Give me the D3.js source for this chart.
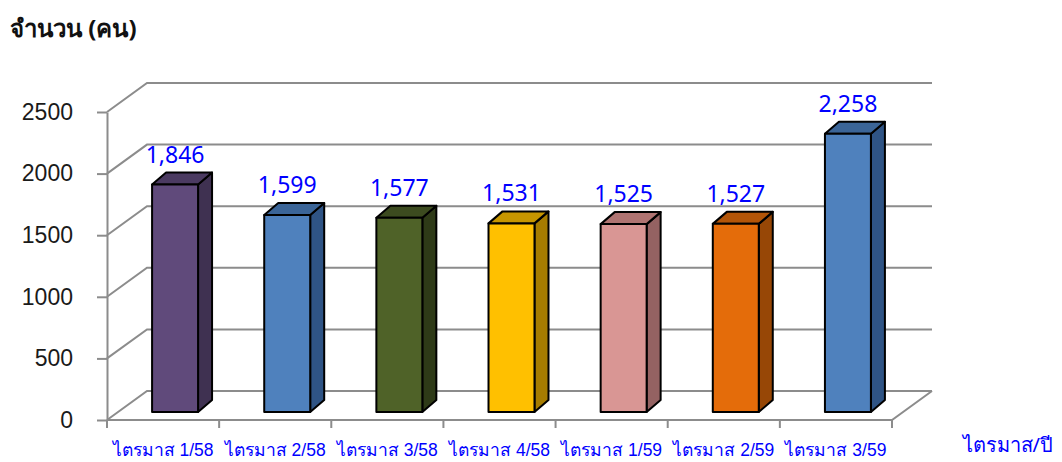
<!DOCTYPE html>
<html>
<head>
<meta charset="utf-8">
<script src="https://cdn.jsdelivr.net/npm/d3@7"></script>
<style>
  html, body { margin: 0; padding: 0; background: #fff; }
  svg { display: block; font-family: Tahoma, "Noto Sans", "DejaVu Sans", sans-serif; }
</style>
</head>
<body>
<svg id="mount" width="1062" height="462"></svg>
<script>
var categories = ["ไตรมาส 1/58", "ไตรมาส 2/58", "ไตรมาส 3/58", "ไตรมาส 4/58", "ไตรมาส 1/59", "ไตรมาส 2/59", "ไตรมาส 3/59"];
var values = [1846, 1599, 1577, 1531, 1525, 1527, 2258];
var yTicks = [0, 500, 1000, 1500, 2000, 2500];
var frontColors = ["#604A7B", "#4F81BD", "#4F6228", "#FFC000", "#D99694", "#E46C0A", "#4F81BD"];
var sideColors = ["#3F3151", "#2F5485", "#2E3A17", "#A67C00", "#946262", "#974706", "#2F5485"];
var topColors = ["#4B3A61", "#3B6598", "#3C4B1F", "#C79600", "#B07472", "#B35508", "#3B6598"];

var gridColor = "#8c8c8c";
var labelBlue = "#0000FF";

// wall depth (side wall offset)
var wallDx = 40, wallDy = -29;
// bar depth
var barDx = 14, barDy = -12;
// bar front face offset inside the floor
var barOffX = 12, barOffY = -8;

var svg = d3.select("#mount");

var x = d3.scaleBand()
  .domain(categories)
  .range([107, 892])
  .padding(0);

var y = d3.scaleLinear()
  .domain([0, 2500])
  .range([420, 112]);

var x0 = x.range()[0], x1 = x.range()[1];

// gridlines: side wall diagonals + back wall horizontals
var grid = svg.append("g")
  .attr("fill", "none")
  .attr("stroke", gridColor)
  .attr("stroke-width", 2);

yTicks.forEach(function(t) {
  grid.append("path")
    .attr("d", "M" + x0 + "," + y(t) + "L" + (x0 + wallDx) + "," + (y(t) + wallDy) +
      "L" + (x1 + wallDx) + "," + (y(t) + wallDy));
});

// floor front + right edge
grid.append("path")
  .attr("d", "M" + x0 + "," + y(0) + "L" + x1 + "," + y(0) +
    "L" + (x1 + wallDx) + "," + (y(0) + wallDy));

// left axis
var yAxis = svg.append("g")
  .attr("transform", "translate(" + x0 + ",0)")
  .call(d3.axisLeft(y).tickValues(yTicks).tickFormat(d3.format("d"))
    .tickSize(10).tickSizeOuter(0).tickPadding(24));
yAxis.select(".domain").attr("stroke", gridColor).attr("stroke-width", 2);
yAxis.selectAll(".tick line").attr("stroke", gridColor).attr("stroke-width", 2);
yAxis.selectAll(".tick text")
  .attr("fill", "#1a1a1a")
  .style("font-size", "23px");

// bottom axis labels
var xAxis = svg.append("g")
  .attr("transform", "translate(0," + y(0) + ")")
  .call(d3.axisBottom(x).tickSize(0).tickPadding(24));
xAxis.select(".domain").remove();
xAxis.selectAll(".tick text")
  .attr("fill", labelBlue)
  .style("font-size", "17.5px");

// boundary ticks on x axis
var boundaries = categories.map(function(c) { return x(c); }).concat([x1]);
svg.append("g")
  .selectAll("line")
  .data(boundaries)
  .join("line")
  .attr("x1", function(d) { return d; })
  .attr("x2", function(d) { return d; })
  .attr("y1", y(0))
  .attr("y2", y(0) + 8)
  .attr("stroke", gridColor)
  .attr("stroke-width", 2);

// bars
var barW = x.bandwidth() * 0.41;
var bars = svg.append("g")
  .attr("stroke", "#000")
  .attr("stroke-width", 2)
  .attr("stroke-linejoin", "round");

categories.forEach(function(c, i) {
  var cx = x(c) + x.bandwidth() / 2 + barOffX;
  var left = cx - barW / 2, right = cx + barW / 2;
  var bottom = y(0) + barOffY, top = y(values[i]) + barOffY;
  var g = bars.append("g");
  // side face
  g.append("path")
    .attr("fill", sideColors[i])
    .attr("d", "M" + right + "," + bottom + "L" + (right + barDx) + "," + (bottom + barDy) +
      "L" + (right + barDx) + "," + (top + barDy) + "L" + right + "," + top + "Z");
  // top face
  g.append("path")
    .attr("fill", topColors[i])
    .attr("d", "M" + left + "," + top + "L" + (left + barDx) + "," + (top + barDy) +
      "L" + (right + barDx) + "," + (top + barDy) + "L" + right + "," + top + "Z");
  // front face
  g.append("rect")
    .attr("fill", frontColors[i])
    .attr("x", left)
    .attr("y", top)
    .attr("width", barW)
    .attr("height", bottom - top);
  // value label
  svg.append("text")
    .attr("x", cx)
    .attr("y", top + barDy - 10)
    .attr("text-anchor", "middle")
    .attr("fill", labelBlue)
    .style("font-size", "23px")
    .text(d3.format(",")(values[i]));
});

// titles
svg.append("text")
  .attr("x", 10)
  .attr("y", 37)
  .attr("fill", "#111")
  .style("font-size", "24px")
  .style("font-weight", "bold")
  .text("จำนวน (คน)");

svg.append("text")
  .attr("x", 1053)
  .attr("y", 452)
  .attr("text-anchor", "end")
  .attr("fill", labelBlue)
  .style("font-size", "20px")
  .text("ไตรมาส/ปี");
</script>
</body>
</html>
